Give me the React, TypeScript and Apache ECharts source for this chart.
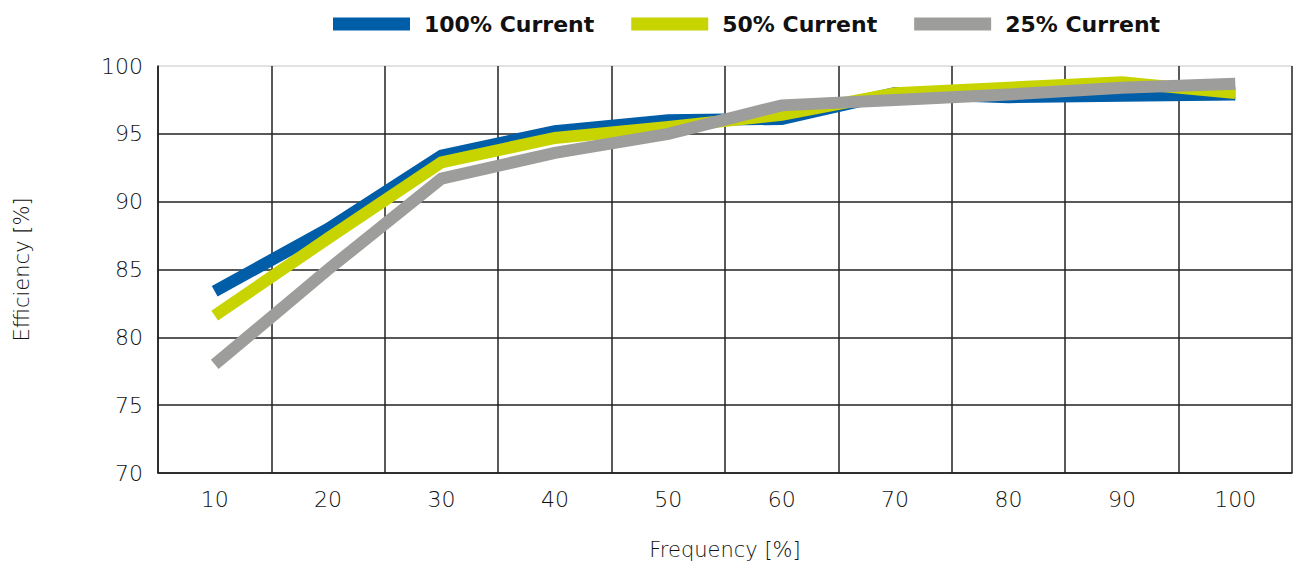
import React, { useEffect, useRef } from "react";
import * as echarts from "echarts";

const categories = ["10", "20", "30", "40", "50", "60", "70", "80", "90", "100"];
const current100 = [83.4, 88.0, 93.4, 95.2, 96.0, 96.1, 98.0, 97.7, 97.8, 97.9];
const current50 = [81.6, 87.3, 92.9, 94.7, 95.5, 96.4, 98.0, 98.4, 98.8, 98.0];
const current25 = [78.0, 85.0, 91.7, 93.6, 95.0, 97.1, 97.5, 97.9, 98.4, 98.7];
const seriesNames = ["100% Current", "50% Current", "25% Current"];
const seriesColors = ["#005DA8", "#C8D400", "#9D9D9C"];

const labelFont = { fontFamily: "DejaVu Sans", fontWeight: 200, fontSize: 22, color: "#111" };
const nameFont = { fontFamily: "DejaVu Sans", fontWeight: 200, fontSize: 21, color: "#111" };

export default function App() {
  const ref = useRef<HTMLDivElement>(null);
  useEffect(() => {
    if (!ref.current) return;
    const chart = echarts.init(ref.current, null, { renderer: "svg" });
    const values = [current100, current50, current25];
    chart.setOption({
      animation: false,
      backgroundColor: "#fff",
      legend: {
        top: 8,
        left: 328,
        icon: "rect",
        itemWidth: 77,
        itemHeight: 13,
        itemGap: 37,
        data: seriesNames,
        textStyle: { fontFamily: "DejaVu Sans", fontWeight: "bold", fontSize: 22, color: "#111", padding: [0, 0, 0, 9] },
      },
      grid: { left: 158, right: 1, top: 66, bottom: 90, outerBoundsMode: "none", containLabel: false },
      xAxis: {
        type: "category",
        data: categories,
        boundaryGap: true,
        name: "Frequency [%]",
        nameLocation: "middle",
        nameGap: 66,
        nameTextStyle: nameFont,
        axisLine: { show: true, lineStyle: { color: "#222", width: 1.5 } },
        axisTick: { show: false },
        axisLabel: { ...labelFont, margin: 15 },
        splitLine: { show: true, interval: 0, lineStyle: { color: "#222", width: 1.5 } },
      },
      yAxis: {
        type: "value",
        min: 70,
        max: 100,
        interval: 5,
        name: "Efficiency [%]",
        nameLocation: "middle",
        nameGap: 126,
        nameTextStyle: nameFont,
        axisLine: { show: true, lineStyle: { color: "#222", width: 1.5 } },
        axisTick: { show: false },
        axisLabel: { ...labelFont, margin: 15 },
        splitLine: {
          show: true,
          lineStyle: { color: ["#222", "#222", "#222", "#222", "#222", "#222", "#d8d8d8"], width: 1.5 },
        },
      },
      series: seriesNames.map((name, i) => ({
        name,
        type: "line",
        data: values[i],
        showSymbol: false,
        symbol: "none",
        z: 2 + i,
        color: seriesColors[i],
        lineStyle: { color: seriesColors[i], width: 12, cap: "butt", join: "miter" },
        itemStyle: { color: seriesColors[i] },
      })),
    });
    return () => chart.dispose();
  }, []);
  return <div ref={ref} style={{ position: "fixed", left: 0, top: 0, width: 1293, height: 563 }} />;
}
